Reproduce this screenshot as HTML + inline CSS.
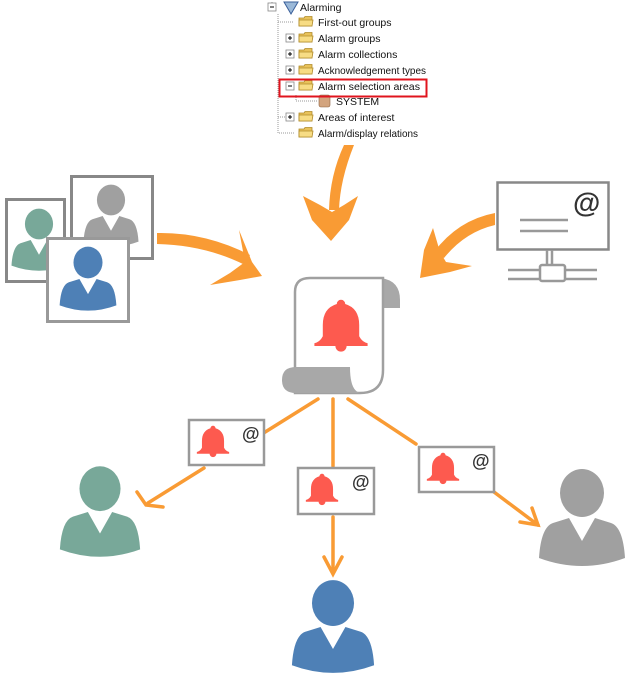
<!DOCTYPE html>
<html><head><meta charset="utf-8"><style>
html,body{margin:0;padding:0;background:#fff;width:630px;height:677px;overflow:hidden}
svg{display:block}
.t{font-family:"Liberation Sans",sans-serif;font-size:10.5px;fill:#111}
.at{font-family:"Liberation Sans",sans-serif;font-weight:bold;fill:#333}
</style></head><body>
<svg width="630" height="677" viewBox="0 0 630 677" xmlns="http://www.w3.org/2000/svg">
<defs>
<symbol id="p" viewBox="0 0 90 100">
<ellipse cx="45" cy="25" rx="22" ry="24"/>
<path d="M16,55 L32,50 L45,73 L58,50 L74,55 Q86,59 88,90 Q45,106 2,90 Q4,59 16,55 Z"/>
</symbol>
<symbol id="b" viewBox="0 0 40 40">
<path d="M20,2 a3,3 0 0 1 3,3 Q33,8 33,20 L33,28 Q35,32 39,33 L39,35 L24,35 a4,4 0 0 1 -8,0 L1,35 L1,33 Q5,32 7,28 L7,20 Q7,8 17,5 a3,3 0 0 1 3,-3 Z" fill="#fd5a4f"/>
</symbol>
<symbol id="f" viewBox="0 0 16 12">
<path d="M1,3 L6,3 L7,1.5 L14,1.5 L14,11 L1,11 Z" fill="#e8c25a" stroke="#b08a2a" stroke-width="0.8"/>
<path d="M1,5 L15,5 L14,11 L1,11 Z" fill="#f7dc84" stroke="#b08a2a" stroke-width="0.8"/>
</symbol>
</defs>

<!-- tree -->
<g stroke="#999" stroke-width="1" stroke-dasharray="1,1" fill="none">
<path d="M272,2 L272,8 M278,14 L278,133 L294,133 M278,22 L294,22 M278,117 L294,117 M296,95 L296,101 L318,101"/>
</g>
<g fill="#fff" stroke="#888" stroke-width="0.8">
<rect x="268" y="3" width="8" height="8"/>
<rect x="286" y="34" width="8" height="8"/><rect x="286" y="50" width="8" height="8"/>
<rect x="286" y="66" width="8" height="8"/><rect x="286" y="82" width="8" height="8"/>
<rect x="286" y="113" width="8" height="8"/>
</g>
<g stroke="#000" stroke-width="1"><path d="M270,7h4M288,38h4M290,36v4M288,54h4M290,52v4M288,70h4M290,68v4M288,86h4M288,117h4M290,115v4"/></g>
<path d="M284,2 L298,2 L291,14 Z" fill="#9ab8d8" stroke="#3a5f9a"/>
<use href="#f" x="298" y="15" width="16" height="12"/>
<use href="#f" x="298" y="31" width="16" height="12"/>
<use href="#f" x="298" y="47" width="16" height="12"/>
<use href="#f" x="298" y="63" width="16" height="12"/>
<use href="#f" x="298" y="79" width="16" height="12"/>
<use href="#f" x="298" y="110" width="16" height="12"/>
<use href="#f" x="298" y="126" width="16" height="12"/>
<rect x="319" y="95" width="11" height="12" rx="2" fill="#d3a47e" stroke="#8a6040" stroke-width="0.6"/>
<g class="t" textLength="0">
<text class="t" x="300" y="11">Alarming</text>
<text class="t" x="318" y="26">First-out groups</text>
<text class="t" x="318" y="42">Alarm groups</text>
<text class="t" x="318" y="58">Alarm collections</text>
<text class="t" x="318" y="74" textLength="108" lengthAdjust="spacingAndGlyphs">Acknowledgement types</text>
<text class="t" x="318" y="90" textLength="102" lengthAdjust="spacingAndGlyphs">Alarm selection areas</text>
<text class="t" x="336" y="105">SYSTEM</text>
<text class="t" x="318" y="121">Areas of interest</text>
<text class="t" x="318" y="137" textLength="100" lengthAdjust="spacingAndGlyphs">Alarm/display relations</text>
</g>
<rect x="279.5" y="79.5" width="147" height="17" fill="none" stroke="#e0141e" stroke-width="2"/>

<!-- orange input arrows -->
<g fill="#f99b34">
<path d="M344,145 L354,145 Q340,180 339,210 L329,210 Q330,175 344,145 Z"/>
<path d="M303,196 L320,205 L332,212 L344,205 L358,196 L349,220 L331,241 L312,220 Z"/>
<path d="M157,233 Q205,232 250,255 L245,265 Q205,245 157,244 Z"/>
<path d="M239,230 L252,262 L262,276 L240,280 L210,285 L230,273 L245,262 Z"/>
<path d="M495,213 L495,225 Q465,232 444,258 L434,252 Q458,220 495,213 Z"/>
<path d="M433,228 L440,252 L446,262 L472,266 L450,272 L420,278 L424,250 Z"/>
</g>

<!-- left frames -->
<rect x="6.5" y="199.5" width="58" height="82" fill="#fff" stroke="#888" stroke-width="3"/>
<use href="#p" x="10" y="208" width="58" height="64" fill="#78a899"/>
<rect x="71.5" y="176.5" width="81" height="82" fill="#fff" stroke="#888" stroke-width="3"/>
<use href="#p" x="82" y="184" width="58" height="64" fill="#a0a0a0"/>
<rect x="47.5" y="238.5" width="81" height="83" fill="#fff" stroke="#999" stroke-width="3"/>
<use href="#p" x="58" y="246" width="60" height="66" fill="#4e80b6"/>

<!-- monitor -->
<rect x="497.5" y="182.5" width="111" height="67" fill="#fff" stroke="#888" stroke-width="2.5"/>
<text class="at" x="573" y="212" font-size="28">@</text>
<g stroke="#999" stroke-width="2.5"><path d="M520,220h48M520,231h48M547,250v16M552,250v16M508,270h32M508,279h32M565,270h32M565,279h32"/></g>
<rect x="540" y="265" width="25" height="16" rx="2" fill="#fff" stroke="#999" stroke-width="2.5"/>

<!-- scroll -->
<path d="M380,278 Q400,280 400,300 L400,308 L383,308 L383,278 Z" fill="#a8a8a8"/>
<path d="M310,278 L383,278 L383,370 Q383,393 360,393 L295,393 L295,292 Q295,278 310,278 Z" fill="#fff" stroke="#a0a0a0" stroke-width="2.5"/>
<path d="M296,367 L350,367 Q350,393 362,393 L296,393 Q282,393 282,380 Q282,367 296,367 Z" fill="#a8a8a8"/>
<use href="#b" x="313" y="297" width="56" height="56"/>

<!-- output lines -->
<g stroke="#f99b34" stroke-width="3.5" fill="none" stroke-linecap="round">
<path d="M318,399 L262,434"/>
<path d="M204,468 L148,503"/>
<path d="M137,492 L146,505 L163,507"/>
<path d="M333,399 L333,466"/>
<path d="M333,517 L333,573"/>
<path d="M324,557 L333,574 L342,557"/>
<path d="M348,399 L416,444"/>
<path d="M494,492 L538,525"/>
<path d="M520,522 L538,525 L532,508"/>
</g>

<!-- envelopes -->
<g fill="#fff" stroke="#999" stroke-width="2.5">
<rect x="189" y="420" width="75" height="45"/>
<rect x="298" y="468" width="76" height="46"/>
<rect x="419" y="447" width="75" height="45"/>
</g>
<use href="#b" x="196" y="424" width="34" height="34"/>
<use href="#b" x="305" y="472" width="34" height="34"/>
<use href="#b" x="426" y="451" width="34" height="34"/>
<text class="at" x="242" y="440" font-size="18" font-weight="normal">@</text>
<text class="at" x="352" y="488" font-size="18" font-weight="normal">@</text>
<text class="at" x="472" y="467" font-size="18" font-weight="normal">@</text>

<!-- recipients -->
<use href="#p" x="58" y="464" width="84" height="96" fill="#78a899"/>
<use href="#p" x="290" y="578" width="86" height="98" fill="#4e80b6"/>
<use href="#p" x="537" y="468" width="90" height="100" fill="#a0a0a0"/>
</svg>
</body></html>
